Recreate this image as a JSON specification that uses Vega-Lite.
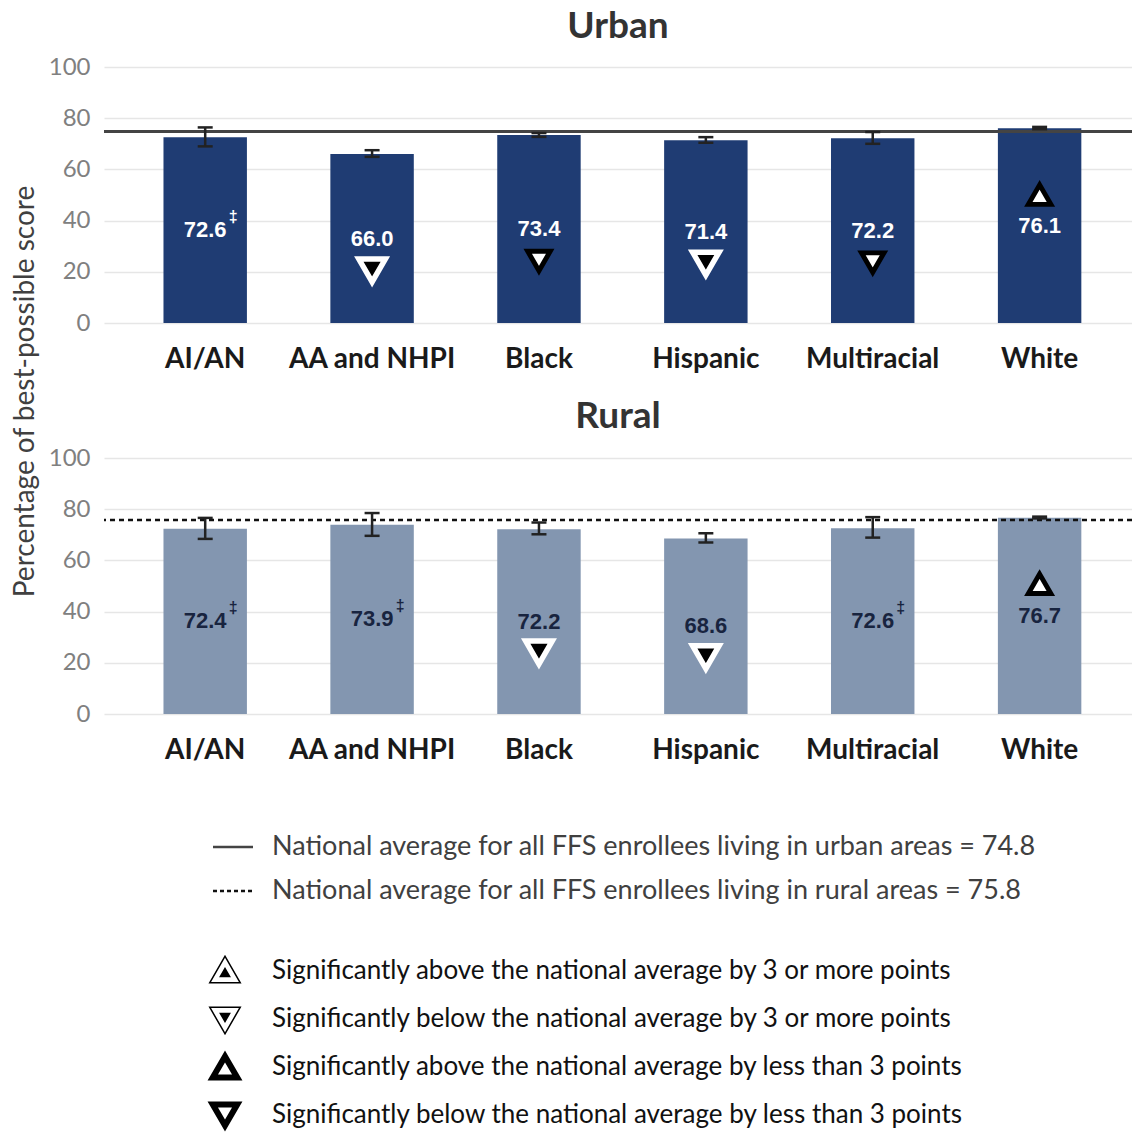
{
  "$schema": "https://vega.github.io/schema/vega-lite/v6.json",
  "background": "white",
  "padding": {"left": 11, "top": 8, "right": 0, "bottom": 0},
  "bounds": "flush",
  "spacing": 135,
  "datasets": {
    "urban": [
      {"group": "AI/AN", "score": 72.6, "lo": 69.0, "hi": 76.4, "flag": "‡", "direction": null, "margin": null},
      {"group": "AA and NHPI", "score": 66.0, "lo": 64.9, "hi": 67.5, "flag": "", "direction": "below", "margin": "3+"},
      {"group": "Black", "score": 73.4, "lo": 72.7, "hi": 74.2, "flag": "", "direction": "below", "margin": "<3"},
      {"group": "Hispanic", "score": 71.4, "lo": 70.4, "hi": 72.6, "flag": "", "direction": "below", "margin": "3+"},
      {"group": "Multiracial", "score": 72.2, "lo": 70.0, "hi": 74.6, "flag": "", "direction": "below", "margin": "<3"},
      {"group": "White", "score": 76.1, "lo": 75.7, "hi": 76.6, "flag": "", "direction": "above", "margin": "<3"}
    ],
    "rural": [
      {"group": "AI/AN", "score": 72.4, "lo": 68.4, "hi": 76.6, "flag": "‡", "direction": null, "margin": null},
      {"group": "AA and NHPI", "score": 73.9, "lo": 69.6, "hi": 78.5, "flag": "‡", "direction": null, "margin": null},
      {"group": "Black", "score": 72.2, "lo": 70.2, "hi": 74.8, "flag": "", "direction": "below", "margin": "3+"},
      {"group": "Hispanic", "score": 68.6, "lo": 67.0, "hi": 70.6, "flag": "", "direction": "below", "margin": "3+"},
      {"group": "Multiracial", "score": 72.6, "lo": 68.9, "hi": 76.9, "flag": "‡", "direction": null, "margin": null},
      {"group": "White", "score": 76.7, "lo": 76.4, "hi": 77.1, "flag": "", "direction": "above", "margin": "<3"}
    ],
    "lines": [
      {"item": "urban", "label": "National average for all FFS enrollees living in urban areas = 74.8"},
      {"item": "rural", "label": "National average for all FFS enrollees living in rural areas = 75.8"}
    ],
    "sig": [
      {"key": "above3", "direction": "above", "margin": "3+", "label": "Significantly above the national average by 3 or more points"},
      {"key": "below3", "direction": "below", "margin": "3+", "label": "Significantly below the national average by 3 or more points"},
      {"key": "aboveLess", "direction": "above", "margin": "<3", "label": "Significantly above the national average by less than 3 points"},
      {"key": "belowLess", "direction": "below", "margin": "<3", "label": "Significantly below the national average by less than 3 points"}
    ]
  },
  "vconcat": [
    {
      "width": 1028,
      "height": 256,
      "title": {"text": "Urban", "font": "Lato", "fontSize": 37, "fontWeight": "bold", "color": "#333333", "anchor": "middle", "offset": 9},
      "data": {"name": "urban"},
      "resolve": {"scale": {"y": "independent"}},
      "layer": [
        {
          "layer": [
            {
              "mark": {"type": "bar", "color": "#1f3c73"},
              "encoding": {
                "x": {"field": "group", "type": "nominal", "title": null, "scale": {"domain": ["AI/AN", "AA and NHPI", "Black", "Hispanic", "Multiracial", "White"], "paddingInner": 0.5, "paddingOuter": 0.33, "align": 0.54}},
                "y": {"field": "score", "type": "quantitative", "scale": {"domain": [0, 100]}, "axis": {"values": [0, 20, 40, 60, 80, 100], "title": "Percentage of best-possible score", "titleX": -79, "titleY": 324, "titleBaseline": "middle", "titleAngle": -90, "titleFont": "Lato", "titleFontSize": 28, "titleFontWeight": "normal", "titleColor": "#404040"}}
              }
            },
            {
              "data": {"values": [{"avg": 74.8}]},
              "mark": {"type": "rule", "color": "#444444", "strokeWidth": 3},
              "encoding": {"y": {"field": "avg", "type": "quantitative"}}
            },
            {
              "mark": {"type": "rule", "color": "#222222", "strokeWidth": 2.5},
              "encoding": {
                "x": {"field": "group", "type": "nominal", "title": null},
                "y": {"field": "lo", "type": "quantitative"},
                "y2": {"field": "hi"}
              }
            },
            {
              "mark": {"type": "tick", "color": "#222222", "thickness": 2.5, "size": 15, "opacity": 1},
              "encoding": {
                "x": {"field": "group", "type": "nominal", "title": null},
                "y": {"field": "lo", "type": "quantitative"}
              }
            },
            {
              "mark": {"type": "tick", "color": "#222222", "thickness": 2.5, "size": 15, "opacity": 1},
              "encoding": {
                "x": {"field": "group", "type": "nominal", "title": null},
                "y": {"field": "hi", "type": "quantitative"}
              }
            }
          ]
        },
        {
          "encoding": {
            "x": {"field": "group", "type": "nominal", "title": null},
            "y": {"field": "score", "type": "quantitative", "scale": {"domain": [0, 200]}, "axis": null},
            "shape": {"field": "direction", "type": "nominal", "scale": {"domain": ["above", "below"], "range": ["triangle-up", "triangle-down"]}, "legend": null}
          },
          "layer": [
            {"mark": {"type": "text", "font": "Liberation Sans", "fontWeight": "bold", "fontSize": 22, "color": "#ffffff", "baseline": "middle", "align": "center"}, "encoding": {"text": {"field": "score", "type": "quantitative", "format": ".1f"}}},
            {"transform": [{"filter": "datum.flag"}], "mark": {"type": "text", "font": "Liberation Sans", "fontWeight": "bold", "fontSize": 16, "color": "#ffffff", "baseline": "middle", "align": "center", "dx": 28, "dy": -13}, "encoding": {"text": {"field": "flag"}}},
            {"transform": [{"filter": "datum.margin === '3+' && datum.direction === 'below'"}], "mark": {"type": "point", "filled": true, "fill": "#000000", "stroke": "#ffffff", "strokeWidth": 5.5, "size": 702, "opacity": 1, "yOffset": 32}},
            {"transform": [{"filter": "datum.margin === '3+' && datum.direction === 'above'"}], "mark": {"type": "point", "filled": true, "fill": "#000000", "stroke": "#ffffff", "strokeWidth": 5.5, "size": 702, "opacity": 1, "yOffset": -31}},
            {"transform": [{"filter": "datum.margin === '<3' && datum.direction === 'below'"}], "mark": {"type": "point", "filled": true, "fill": "#ffffff", "stroke": "#000000", "strokeWidth": 4.9, "size": 506, "opacity": 1, "yOffset": 32}},
            {"transform": [{"filter": "datum.margin === '<3' && datum.direction === 'above'"}], "mark": {"type": "point", "filled": true, "fill": "#ffffff", "stroke": "#000000", "strokeWidth": 4.9, "size": 506, "opacity": 1, "yOffset": -31}}
          ]
        }
      ]
    },
    {
      "width": 1028,
      "height": 256,
      "title": {"text": "Rural", "font": "Lato", "fontSize": 37, "fontWeight": "bold", "color": "#333333", "anchor": "middle", "offset": 10},
      "data": {"name": "rural"},
      "resolve": {"scale": {"y": "independent"}},
      "layer": [
        {
          "layer": [
            {
              "mark": {"type": "bar", "color": "#8396b0"},
              "encoding": {
                "x": {"field": "group", "type": "nominal", "title": null, "scale": {"domain": ["AI/AN", "AA and NHPI", "Black", "Hispanic", "Multiracial", "White"], "paddingInner": 0.5, "paddingOuter": 0.33, "align": 0.54}},
                "y": {"field": "score", "type": "quantitative", "scale": {"domain": [0, 100]}, "axis": {"values": [0, 20, 40, 60, 80, 100], "title": null}}
              }
            },
            {
              "data": {"values": [{"avg": 75.8}]},
              "mark": {"type": "rule", "color": "#111111", "strokeWidth": 2.5, "strokeDash": [5, 4]},
              "encoding": {"y": {"field": "avg", "type": "quantitative"}}
            },
            {
              "mark": {"type": "rule", "color": "#222222", "strokeWidth": 2.5},
              "encoding": {
                "x": {"field": "group", "type": "nominal", "title": null},
                "y": {"field": "lo", "type": "quantitative"},
                "y2": {"field": "hi"}
              }
            },
            {
              "mark": {"type": "tick", "color": "#222222", "thickness": 2.5, "size": 15, "opacity": 1},
              "encoding": {
                "x": {"field": "group", "type": "nominal", "title": null},
                "y": {"field": "lo", "type": "quantitative"}
              }
            },
            {
              "mark": {"type": "tick", "color": "#222222", "thickness": 2.5, "size": 15, "opacity": 1},
              "encoding": {
                "x": {"field": "group", "type": "nominal", "title": null},
                "y": {"field": "hi", "type": "quantitative"}
              }
            }
          ]
        },
        {
          "encoding": {
            "x": {"field": "group", "type": "nominal", "title": null},
            "y": {"field": "score", "type": "quantitative", "scale": {"domain": [0, 200]}, "axis": null},
            "shape": {"field": "direction", "type": "nominal", "scale": {"domain": ["above", "below"], "range": ["triangle-up", "triangle-down"]}, "legend": null}
          },
          "layer": [
            {"mark": {"type": "text", "font": "Liberation Sans", "fontWeight": "bold", "fontSize": 22, "color": "#18243f", "baseline": "middle", "align": "center"}, "encoding": {"text": {"field": "score", "type": "quantitative", "format": ".1f"}}},
            {"transform": [{"filter": "datum.flag"}], "mark": {"type": "text", "font": "Liberation Sans", "fontWeight": "bold", "fontSize": 16, "color": "#18243f", "baseline": "middle", "align": "center", "dx": 28, "dy": -13}, "encoding": {"text": {"field": "flag"}}},
            {"transform": [{"filter": "datum.margin === '3+' && datum.direction === 'below'"}], "mark": {"type": "point", "filled": true, "fill": "#000000", "stroke": "#ffffff", "strokeWidth": 5.5, "size": 702, "opacity": 1, "yOffset": 31}},
            {"transform": [{"filter": "datum.margin === '3+' && datum.direction === 'above'"}], "mark": {"type": "point", "filled": true, "fill": "#000000", "stroke": "#ffffff", "strokeWidth": 5.5, "size": 702, "opacity": 1, "yOffset": -32}},
            {"transform": [{"filter": "datum.margin === '<3' && datum.direction === 'below'"}], "mark": {"type": "point", "filled": true, "fill": "#ffffff", "stroke": "#000000", "strokeWidth": 4.9, "size": 506, "opacity": 1, "yOffset": 31}},
            {"transform": [{"filter": "datum.margin === '<3' && datum.direction === 'above'"}], "mark": {"type": "point", "filled": true, "fill": "#ffffff", "stroke": "#000000", "strokeWidth": 4.9, "size": 506, "opacity": 1, "yOffset": -32}}
          ]
        }
      ]
    },
    {
      "width": 1028,
      "height": 266,
      "resolve": {"scale": {"x": "independent", "y": "independent"}},
      "layer": [
        {
          "data": {"name": "lines"},
          "encoding": {
            "y": {"field": "item", "type": "nominal", "scale": {"type": "point", "domain": ["urban", "rural"], "range": [-2, 42], "padding": 0}, "axis": null}
          },
          "layer": [
            {
              "mark": {"type": "point", "shape": "stroke", "filled": false, "size": 1600, "strokeWidth": 2.5, "opacity": 1},
              "encoding": {
                "x": {"datum": "symbol", "type": "nominal", "scale": {"type": "point", "domain": ["symbol", "label"], "range": [129, 168], "padding": 0}, "axis": null},
                "strokeDash": {"field": "item", "type": "nominal", "scale": {"domain": ["urban", "rural"], "range": [[1, 0], [4, 3]]}, "legend": null},
                "color": {"field": "item", "type": "nominal", "scale": {"domain": ["urban", "rural"], "range": ["#444444", "#111111"]}, "legend": null}
              }
            },
            {
              "mark": {"type": "text", "align": "left", "baseline": "middle", "font": "Lato", "fontSize": 27, "color": "#404040"},
              "encoding": {
                "x": {"datum": "label", "type": "nominal"},
                "text": {"field": "label"}
              }
            }
          ]
        },
        {
          "data": {"name": "sig"},
          "encoding": {
            "y": {"field": "key", "type": "nominal", "scale": {"type": "point", "domain": ["above3", "below3", "aboveLess", "belowLess"], "range": [122, 266], "padding": 0}, "axis": null},
            "shape": {"field": "direction", "type": "nominal", "scale": {"domain": ["above", "below"], "range": ["triangle-up", "triangle-down"]}, "legend": null}
          },
          "layer": [
            {
              "transform": [{"filter": "datum.margin === '3+'"}],
              "mark": {"type": "point", "filled": true, "fill": "#000000", "stroke": "#000000", "strokeWidth": 7.6, "size": 396, "opacity": 1},
              "encoding": {"x": {"datum": "symbol", "type": "nominal", "scale": {"type": "point", "domain": ["symbol", "label"], "range": [121, 168], "padding": 0}, "axis": null}}
            },
            {
              "transform": [{"filter": "datum.margin === '3+'"}],
              "mark": {"type": "point", "filled": true, "fill": "#000000", "stroke": "#ffffff", "strokeWidth": 4.6, "size": 396, "opacity": 1},
              "encoding": {"x": {"datum": "symbol", "type": "nominal"}}
            },
            {
              "transform": [{"filter": "datum.margin === '<3'"}],
              "mark": {"type": "point", "filled": true, "fill": "#ffffff", "stroke": "#000000", "strokeWidth": 6, "size": 600, "opacity": 1},
              "encoding": {"x": {"datum": "symbol", "type": "nominal"}}
            },
            {
              "mark": {"type": "text", "align": "left", "baseline": "middle", "font": "Lato", "fontSize": 26, "color": "#111111"},
              "encoding": {
                "x": {"datum": "label", "type": "nominal"},
                "text": {"field": "label"}
              }
            }
          ]
        }
      ]
    }
  ],
  "config": {
    "view": {"stroke": null},
    "axisX": {"domain": false, "ticks": false, "labelFont": "Lato", "labelFontSize": 28, "labelFontWeight": "bold", "labelColor": "#1a1a1a", "labelPadding": 22, "labelAngle": 0},
    "axisY": {"domain": false, "ticks": false, "grid": true, "gridColor": "#e6e6e6", "gridWidth": 1.5, "labelFont": "Lato", "labelFontSize": 24, "labelColor": "#808080", "labelPadding": 14}
  }
}
